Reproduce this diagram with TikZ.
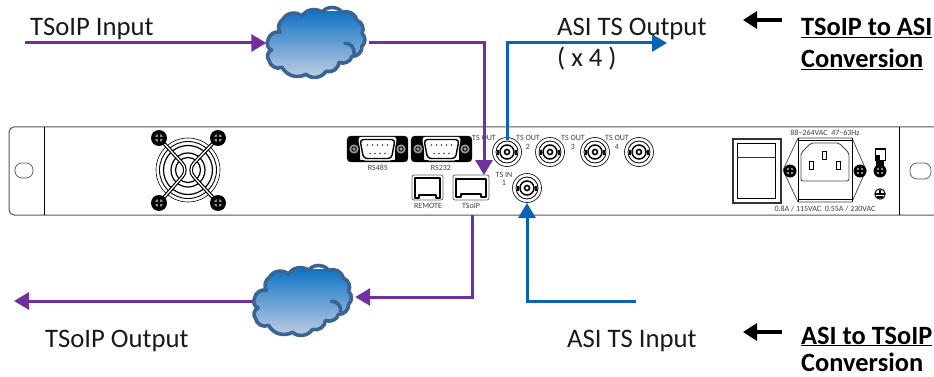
\documentclass[tikz,border=0pt]{standalone}
\usepackage{fontspec}
\setmainfont{Carlito}
\usetikzlibrary{arrows.meta}
\definecolor{purp}{HTML}{7030A0}
\definecolor{blu}{HTML}{0B63B5}
\definecolor{cloudedge}{HTML}{3A6494}
\definecolor{cloudtop}{HTML}{1274C4}
\definecolor{cloudbot}{HTML}{BCCBE2}
\definecolor{panelline}{HTML}{555555}
\tikzset{
  x=1pt,y=-1pt,
  mainlabel/.style={font=\fontsize{26.7}{27}\selectfont,inner sep=0,anchor=base west,text=black!90},
  headlabel/.style={font=\fontsize{26.4}{27}\selectfont\bfseries,inner sep=0,anchor=base west},
  tiny/.style={font=\fontsize{8}{8}\selectfont,inner sep=0,text=black!75},
  purpline/.style={draw=purp,line width=3pt,-{Triangle[length=15pt,width=17pt]}},
  bluline/.style={draw=blu,line width=3pt,-{Triangle[length=15pt,width=17pt]}},
  blackarrow/.style={draw=black,line width=4pt,-{Triangle[length=14pt,width=17pt]}},
  cloudanchor/.style={inner sep=0,minimum width=102pt,minimum height=68pt},
  pline/.style={draw=panelline,line width=1pt},
  dark/.style={draw=black,line width=0.9pt},
}
\newcommand\cloudoutline{%
    (-18.3,16.7) to[bend left=50] (-22,7) to[bend left=50] (-10,-1) to[bend left=45] (-7,-14)
    to[bend left=55] (12,-17) to[bend left=50] (32,-21) to[bend left=55] (52,-21)
    to[bend left=50] (67,-13) to[bend left=50] (72,0) to[bend left=50] (72,13)
    to[bend left=50] (62,23) to[bend left=50] (49,29) to[bend left=55] (36,38)
    to[bend left=50] (16,41) to[bend left=45] (-8,34) to[bend left=55] (-21,27)
    to[bend left=60] (-18.3,16.7) -- cycle}
\newcommand\cloudshape[2]{%
  \begin{scope}[shift={(#1,#2)},line join=round]
  \begin{scope}
  \clip \cloudoutline;
  \foreach \i in {0,...,32} {
    \pgfmathtruncatemacro\mixp{\i*100/32}
    \fill[cloudbot!\mixp!cloudtop] (-26,-22+2*\i) rectangle (76,-19.5+2*\i);
  }
  \end{scope}
  \draw[cloudedge,line width=3.6pt] \cloudoutline;
  \draw[cloudedge,line width=3.6pt,line cap=round] (55,10) to[bend left=55] (64,20);
  \end{scope}}
\newcommand\bncport[2]{%
  \draw[dark,line width=0.6pt] (#1,#2) circle (14.5);
  \draw[dark,line width=0.8pt] (#1,#2) circle (11);
  \draw[dark,line width=1.5pt] (#1,#2) circle (7);
  \draw[dark,line width=1.6pt] (#1,#2) circle (2.5);
  \fill (#1-10,#2-2.5) rectangle (#1-8,#2+2.5);
  \fill (#1+8,#2-2.5) rectangle (#1+10,#2+2.5);}
\newcommand\fanscrew[2]{%
  \fill (#1,#2) circle (8);
  \fill[black!45] (#1,#2) circle (4.2);
  \draw[black,line width=1.3pt] (#1-4.5,#2) -- (#1+4.5,#2) (#1,#2-4.5) -- (#1,#2+4.5);}
\newcommand\smallscrew[2]{%
  \fill (#1,#2) circle (6.5);
  \fill[black!45] (#1,#2) circle (3.8);
  \draw[black,line width=1.1pt] (#1-4,#2) -- (#1+4,#2) (#1,#2-4) -- (#1,#2+4);}
\newcommand\dbport[1]{%
  \begin{scope}[shift={(#1,0)}]
  \draw[black,line width=2.2pt,rounded corners=3pt] (1,137) rectangle (60,161);
  \fill (1,137) rectangle (13,161) (48,137) rectangle (60,161);
  \fill[black!40] (7,149) circle (4.6) (54,149) circle (4.6);
  \draw[black,line width=0.9pt] (7,149) circle (2.2) (54,149) circle (2.2);
  \fill[white,rounded corners=3pt] (11,137) -- (50,137) -- (46,160.5) -- (15,160.5) -- cycle;
  \draw[black,line width=1.4pt,rounded corners=3.5pt] (13,139.5) -- (48,139.5) -- (44.5,158.5) -- (16.5,158.5) -- cycle;
  \foreach \i in {0,1,2,3,4} \fill[black!75] (20.5+5*\i,145) circle (0.8);
  \foreach \i in {0,1,2,3} \fill[black!75] (23+5*\i,153.5) circle (0.8);
  \end{scope}}
\begin{document}
\begin{tikzpicture}
\useasboundingbox (0,0) rectangle (934,377);
\fill[white] (0,0) rectangle (934,377);
% panel
\draw[pline] (934,127) -- (14,127) to[out=180,in=90] (9,132) -- (9,210) to[out=-90,in=180] (14,215) -- (934,215);
\draw[dark,line width=0.8pt] (44,127) -- (44,215);
\draw[dark,line width=0.8pt] (899,127) -- (899,215);
\draw[panelline,line width=0.7pt,rounded corners=7pt] (15,163) rectangle (33,178);
\draw[panelline,line width=0.7pt,rounded corners=7pt] (910,163) rectangle (931,179);
% fan
\foreach \r/\w in {32/0.6,28.5/0.9,24.5/1.2,17/1.2,12.5/1.2} \draw[black,line width=\w pt] (188,170) circle (\r);
\draw[black,line width=3.6pt] (160,139) -- (182,163) to[out=-45,in=45] (182,177) -- (160,202);
\draw[black,line width=3.6pt] (217,139) -- (194,163) to[out=225,in=135] (194,177) -- (217,202);
\draw[white,line width=1.3pt] (160,139) -- (182,163) to[out=-45,in=45] (182,177) -- (160,202);
\draw[white,line width=1.3pt] (217,139) -- (194,163) to[out=225,in=135] (194,177) -- (217,202);
\fanscrew{159}{138}\fanscrew{218}{138}\fanscrew{159}{203}\fanscrew{218}{203}
% d-sub
\dbport{347}\dbport{411}
\node[tiny] (lblA) at (378,168) {RS485};
\node[tiny] (lblB) at (441,168) {RS232};
% bnc
\bncport{507}{152}\bncport{550}{152}\bncport{595}{152}\bncport{639}{152}\bncport{527}{188}
\node[tiny] (o1) at (484,138) {TS OUT};
\node[tiny] (o1n) at (484,147) {1};
\node[tiny] (o2) at (528,138) {TS OUT};
\node[tiny] (o2n) at (528,147) {2};
\node[tiny] (o3) at (573,138) {TS OUT};
\node[tiny] (o3n) at (573,147) {3};
\node[tiny] (o4) at (617,138) {TS OUT};
\node[tiny] (o4n) at (617,147) {4};
\node[tiny] (tin) at (504,175) {TS IN};
\node[tiny] (tinn) at (504,183) {1};
% network ports
\begin{scope}[line join=round]
\draw[black!60,line width=0.8pt,rounded corners=2pt] (412,175) rectangle (443,200);
\draw[dark,line width=1.1pt] (415,198) -- (415,178) -- (440,178) -- (440,198) -- (436,198) -- (436,195) -- (432,195) -- (423,195) -- (419,195) -- (419,198) -- cycle;
\draw[black!60,line width=0.8pt,rounded corners=2pt] (453,175) rectangle (489,200);
\draw[dark,line width=1.6pt] (456,197) -- (456,179) -- (486,179) -- (486,197) -- (481,197) -- (481,194) -- (461,194) -- (461,197) -- cycle;
\end{scope}
\node[tiny] (lblC) at (428,206) {REMOTE};
\node[tiny] (lblD) at (471,206) {TSoIP};
% rocker switch
\draw[dark,line width=1.3pt,draw=black!80] (733,139) rectangle (781,203);
\draw[dark,line width=1pt] (737,144) rectangle (775,198);
\draw[black!80,line width=0.9pt] (737,157) -- (775,157);
% power inlet
\draw[black!75,line width=0.7pt] (798,138) -- (783,170) -- (798,202) -- (852,202) -- (866,170) -- (852,138) -- cycle;
\draw[dark,line width=0.8pt] (798,140.5) -- (852,140.5) (798,138) -- (798,202) (852,138) -- (852,202) (798,199.5) -- (852,199.5);
\draw[black!70,line width=0.9pt,rounded corners=2pt] (801,153) -- (811,143) -- (839,143) -- (849,153) -- (849,181) -- (801,181) -- cycle;
\draw[dark,line width=0.8pt] (822.5,151) rectangle (826.5,159) (809,161) rectangle (813,169) (836,161) rectangle (840,169);
\smallscrew{790}{171}\smallscrew{860}{171}
\draw[dark,line width=1pt] (875,149) rectangle (885,160);
\fill (875,155) rectangle (880,160);
\fill (876,160) rectangle (884,166);
\smallscrew{880}{171}
\draw[dark,line width=1pt] (880,194) circle (5.2);
\draw[dark,line width=1.1pt] (874.8,194) -- (885.2,194) (880,190) -- (880,194) (877,197) -- (883,197);
\node[tiny] (volt) at (825,133) {88--264VAC\ \ 47--63Hz};
\node[tiny] (amp) at (825,209) {0.8A / 115VAC\ \ 0.55A / 230VAC};
% clouds
\node[cloudanchor] (cloudA) at (317.5,44) {};
\cloudshape{290}{33.3}
\node[cloudanchor] (cloudB) at (304,301) {};
\cloudshape{276.5}{291.3}
% connector ends
\coordinate (inA) at (25,43);
\coordinate (portTop) at (484,175);
\coordinate (portOut) at (472,215);
\coordinate (outA) at (14,301);
\coordinate (bncOut) at (507,140);
\coordinate (asiEnd) at (667,43);
\coordinate (asiStart) at (636,301);
\coordinate (bncIn) at (527,203);
\draw[purpline] (inA) -- (cloudA.west |- inA);
\draw[purpline] (cloudA.east |- inA) -| (portTop);
\draw[purpline] (portOut) |- (cloudB.east |- 0,297);
\draw[purpline] (cloudB.west) -- (outA);
\draw[bluline] (bncOut) |- (asiEnd);
\draw[bluline] (asiStart) -| (bncIn);
% labels
\node[mainlabel] (t1) at (30,36) {TSoIP Input};
\node[mainlabel] (t2) at (557,36) {ASI TS Output};
\node[mainlabel] (t3) at (557,67) {( x 4 )};
\node[mainlabel] (t4) at (45,347) {TSoIP Output};
\node[mainlabel] (t5) at (567,347) {ASI TS Input};
\node[headlabel] (h1) at (801,36) {\underline{TSoIP to ASI}};
\node[headlabel] (h2) at (801,68) {\underline{Conversion}};
\node[headlabel] (h3) at (801,344) {\underline{ASI to TSoIP}};
\node[headlabel] (h4) at (801,371) {Conversion};
\coordinate (bA) at (782,20);
\coordinate (bB) at (743,20);
\coordinate (bC) at (782,332);
\coordinate (bD) at (743,332);
\draw[blackarrow] (bA) -- (bB);
\draw[blackarrow] (bC) -- (bD);
\end{tikzpicture}
\end{document}
